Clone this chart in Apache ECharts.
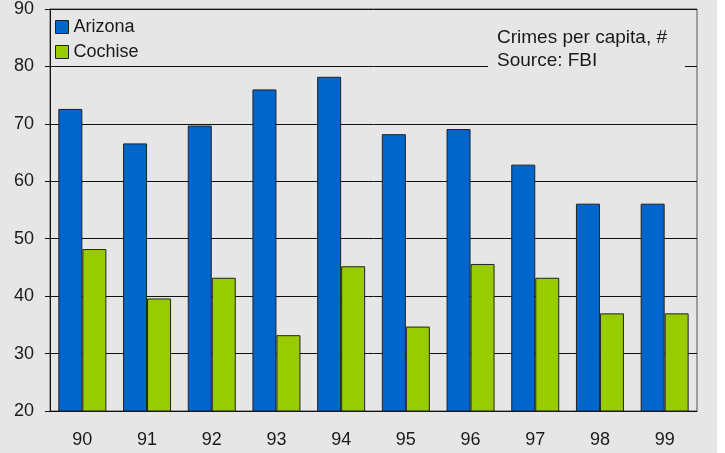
<!DOCTYPE html>
<html>
<head>
<meta charset="utf-8">
<script src="https://cdn.jsdelivr.net/npm/echarts@6/dist/echarts.min.js"></script>
<style>
html,body{margin:0;padding:0;background:#ffffff;}
#c{width:717px;height:453px;background:#e6e6e6;}
</style>
</head>
<body>
<div id="c"></div>
<script>
const categories = ['90','91','92','93','94','95','96','97','98','99'];
const arizona = [72.6, 66.6, 69.7, 76.0, 78.2, 68.2, 69.1, 62.9, 56.1, 56.1];
const cochise = [48.2, 39.6, 43.2, 33.2, 45.2, 34.7, 45.6, 43.2, 37.0, 37.0];
const seriesNames = ['Arizona', 'Cochise'];
const noteText = 'Crimes per capita, #\nSource: FBI';

const font = 'Liberation Sans, Arial, Helvetica, sans-serif';
const chart = echarts.init(document.getElementById('c'), null, {renderer: 'canvas'});
chart.setOption({
  backgroundColor: '#e6e6e6',
  animation: false,
  textStyle: {fontFamily: font},
  title: {
    text: noteText,
    left: 488,
    top: 24,
    padding: [2, 18, 2, 9],
    backgroundColor: '#e6e6e6',
    textStyle: {fontFamily: font, fontSize: 19, fontWeight: 'normal', color: '#1a1a1a', lineHeight: 23}
  },
  legend: {
    data: seriesNames,
    orient: 'vertical',
    left: 55,
    top: 18,
    itemWidth: 13,
    itemHeight: 13,
    itemGap: 7,
    icon: 'rect',
    padding: 0,
    itemStyle: {borderColor: '#222', borderWidth: 1},
    textStyle: {fontFamily: font, fontSize: 18, color: '#1a1a1a', lineHeight: 18}
  },
  grid: {
    left: 50, right: 20, top: 8, bottom: 42,
    show: true, borderColor: '#555', borderWidth: 1, backgroundColor: 'transparent'
  },
  xAxis: {
    type: 'category',
    data: categories,
    axisLine: {lineStyle: {color: '#111', width: 1}},
    axisTick: {show: false},
    axisLabel: {fontFamily: font, fontSize: 18, color: '#1a1a1a', margin: 20, lineHeight: 18}
  },
  yAxis: {
    type: 'value',
    min: 20, max: 90, interval: 10,
    axisLine: {show: true, lineStyle: {color: '#111', width: 1}},
    axisTick: {show: true, length: 5, lineStyle: {color: '#111'}},
    axisLabel: {fontFamily: font, fontSize: 18, color: '#1a1a1a', margin: 16},
    splitLine: {show: true, lineStyle: {color: '#111', width: 1}}
  },
  series: [
    {
      name: seriesNames[0], type: 'bar', data: arizona,
      barWidth: 24, barGap: '0%',
      itemStyle: {color: '#0066cc', borderColor: '#222', borderWidth: 1}
    },
    {
      name: seriesNames[1], type: 'bar', data: cochise,
      barWidth: 24, barGap: '0%',
      itemStyle: {color: '#99cc00', borderColor: '#222', borderWidth: 1}
    }
  ]
});
</script>
</body>
</html>
